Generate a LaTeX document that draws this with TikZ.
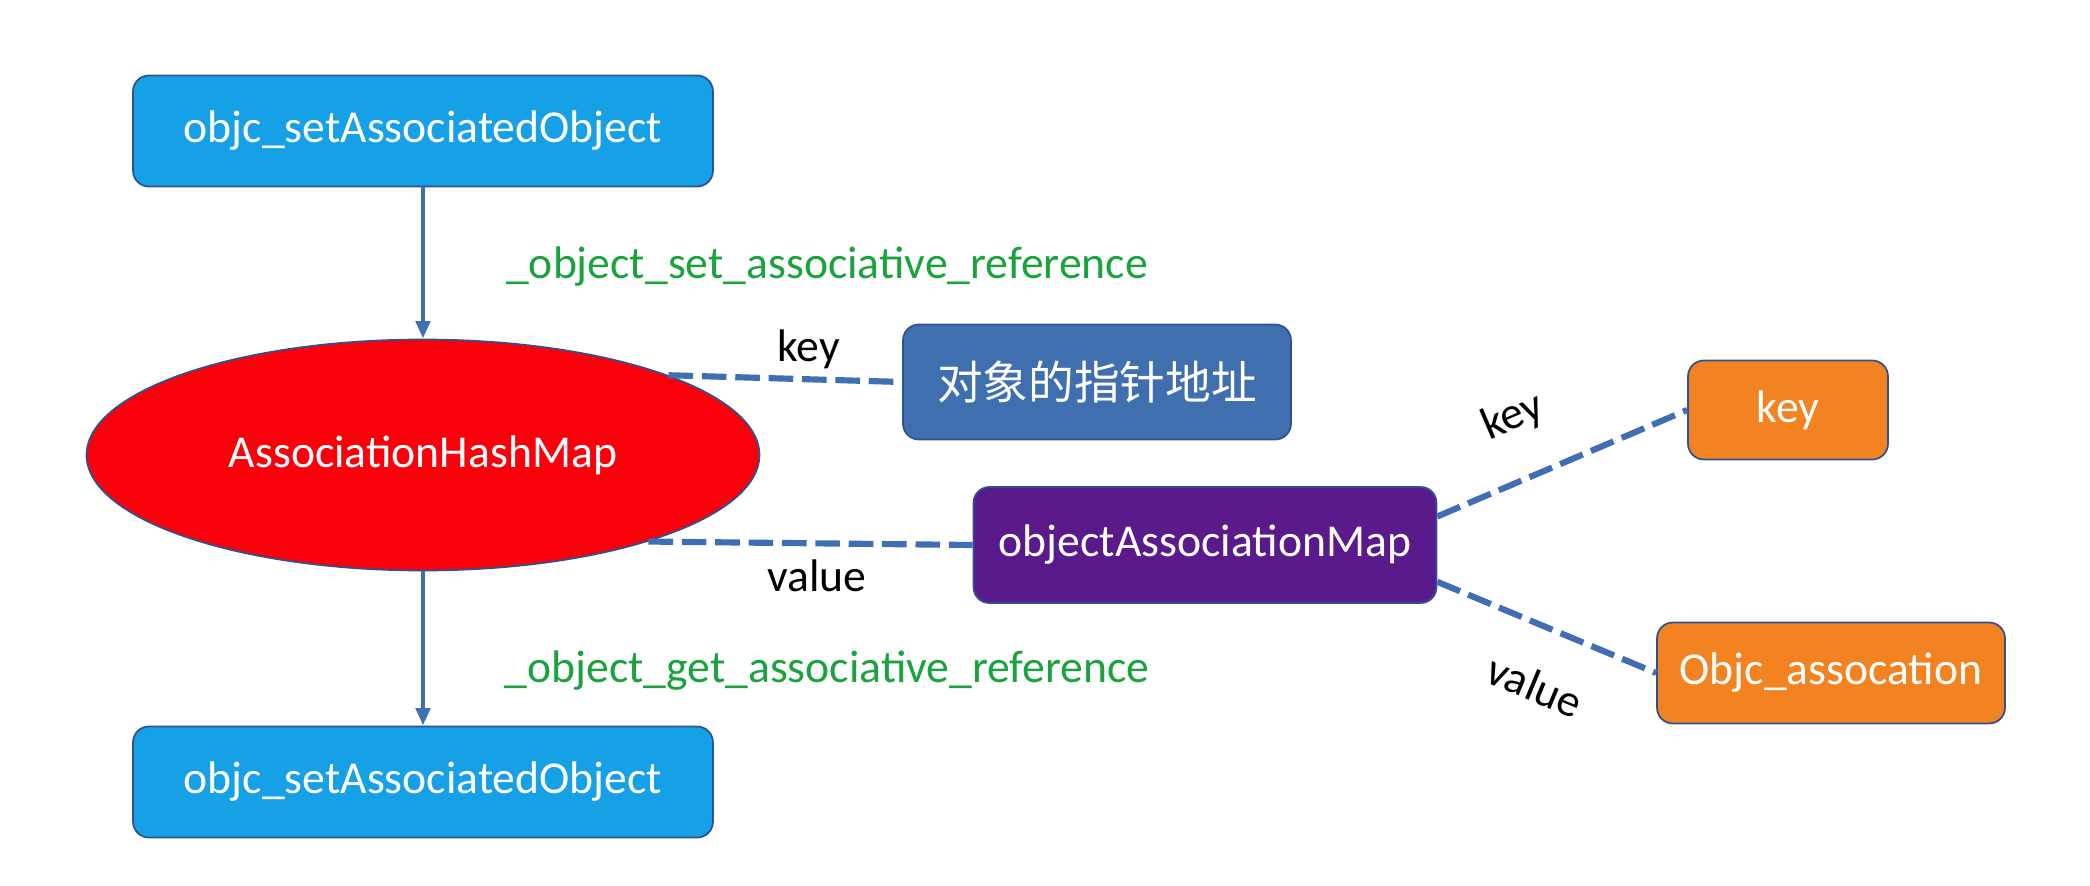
\documentclass[tikz,border=0pt]{standalone}
\usepackage{fontspec}
\setmainfont{Carlito}
\newfontfamily\cjk{Noto Sans CJK SC}
\usetikzlibrary{arrows.meta,positioning,shapes.geometric}
\definecolor{callblue}{RGB}{22,160,230}
\definecolor{edgeblue}{RGB}{47,82,143}
\definecolor{linkblue}{RGB}{64,110,178}
\definecolor{addrblue}{RGB}{64,111,176}
\definecolor{mapred}{RGB}{250,0,10}
\definecolor{mappurple}{RGB}{90,26,140}
\definecolor{entryorange}{RGB}{243,130,32}
\definecolor{fngreen}{RGB}{26,163,60}

\begin{document}
\begin{tikzpicture}[x=0.02cm,y=-0.02cm,>={Triangle[length=10pt,width=8pt]},
  box/.style={draw=edgeblue,line width=1pt,rounded corners=9pt,text=white,inner sep=0pt,
    font=\fontsize{26}{30}\selectfont},
  call/.style={box,fill=callblue,minimum width=11.6cm,minimum height=2.22cm},
  entry/.style={box,fill=entryorange},
  solidlink/.style={draw=linkblue,line width=2.5pt},
  dashlink/.style={draw=linkblue,line width=3.5pt,dash pattern=on 14pt off 5pt},
  lbl/.style={font=\fontsize{26}{30}\selectfont},
  fn/.style={lbl,text=fngreen}]
\useasboundingbox (0,0) rectangle (2090,886);
\node[call] (set) at (423,131) {objc\_setAssociatedObject};
\node[ellipse,draw=edgeblue,line width=1pt,fill=mapred,text=white,inner sep=0pt,
  minimum width=13.46cm,minimum height=4.62cm,font=\fontsize{26}{30}\selectfont] (hash) at (423,455) {AssociationHashMap};
\node[call] (get) at (423,782) {objc\_setAssociatedObject};
\node[box,fill=addrblue,minimum width=7.76cm,minimum height=2.3cm,font=\fontsize{26}{30}\cjk] (addr) at (1097,382) {对象的指针地址};
\node[box,fill=mappurple,minimum width=9.26cm,minimum height=2.32cm] (omap) at (1205,545) {objectAssociationMap};
\node[entry,minimum width=4cm,minimum height=1.98cm] (okey) at (1788,410) {key};
\node[entry,minimum width=6.96cm,minimum height=2.02cm] (oval) at (1831,673) {Objc\_assocation};
\node[fn] (setfn) at (827,267) {\_object\_set\_associative\_reference};
\node[fn] (getfn) at (827,671) {\_object\_get\_associative\_reference};
\draw[solidlink,->] (set) -- (hash);
\draw[solidlink,->] (hash) -- (get);
\draw[dashlink] (hash.18) -- (addr.west) node[lbl,pos=0.6,above=1pt,black] {key};
\draw[dashlink] (hash.-21) -- (omap.west) node[lbl,pos=0.52,below=4pt,black] {value};
\draw[dashlink] (omap.7) -- (okey.west) node[lbl,pos=0.4,above=19pt,sloped,black] {key};
\draw[dashlink] (omap.-9) -- (oval.west) node[lbl,pos=0.55,below=19pt,sloped,black] {value};
\end{tikzpicture}
\end{document}
